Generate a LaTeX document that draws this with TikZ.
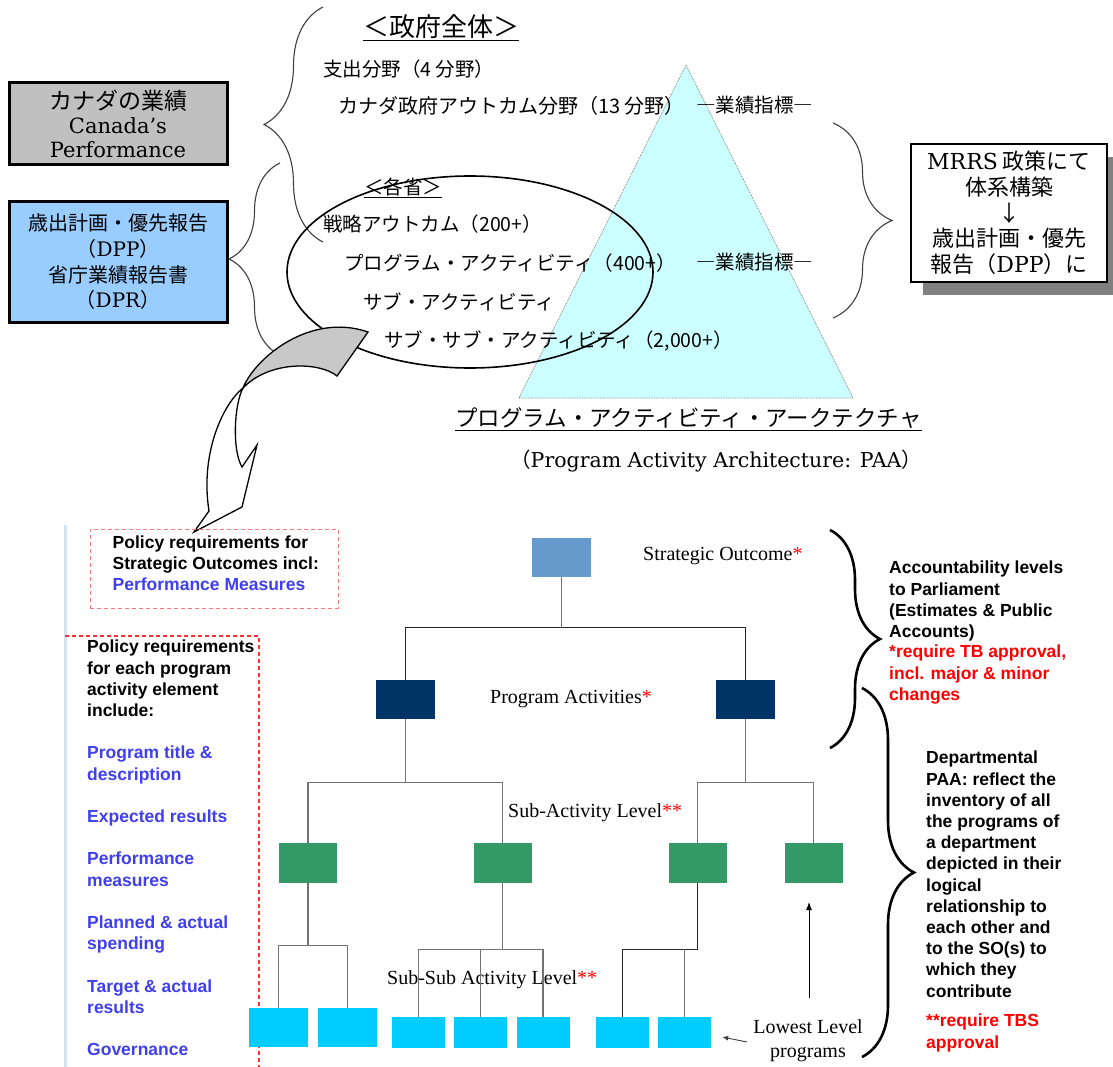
\documentclass[tikz,border=0pt]{standalone}
\usepackage{fontspec}
\setmainfont{Liberation Serif}
\setsansfont{Liberation Sans}
\newfontfamily\jfont{Noto Sans CJK JP}
\newfontfamily\cent{DejaVu Serif}
\usetikzlibrary{positioning,arrows.meta,calc,shadows,decorations.pathreplacing}
\definecolor{boxgrey}{HTML}{C0C0C0}
\definecolor{boxblue}{HTML}{99CCFF}
\definecolor{paa}{HTML}{CCFFFF}
\definecolor{shade}{HTML}{808080}
\definecolor{arrowgrey}{HTML}{C8C8C8}
\definecolor{soblue}{HTML}{6699CC}
\definecolor{panavy}{HTML}{003366}
\definecolor{subgreen}{HTML}{339966}
\definecolor{subcyan}{HTML}{00CCFF}
\definecolor{reqblue}{HTML}{3F3FF0}
\definecolor{reqred}{HTML}{FF0000}
\definecolor{dashred}{HTML}{FF3030}
\definecolor{rule}{HTML}{D6E3EF}
\tikzset{
  jt/.style={font=\jfont\fontsize{19.5}{23}\selectfont,anchor=west,inner sep=0pt},
  perfbox/.style={draw,line width=3pt,minimum width=218pt,minimum height=82pt,align=center,inner sep=0pt,font=\cent\fontsize{21}{24}\selectfont},
  topbrace/.style={decorate,decoration={brace,amplitude=#1pt},draw=black!75,line width=1.1pt},
  bigbrace/.style={decorate,decoration={brace,amplitude=#1pt},draw=black,line width=2.6pt},
  reqtxt/.style={font=\sffamily\bfseries\fontsize{17.5}{21.2}\selectfont,align=left,anchor=north west,inner sep=0pt},
  lvl/.style={minimum width=59pt,minimum height=39pt,inner sep=0pt},
  sublvl/.style={minimum width=58pt,minimum height=40pt,inner sep=0pt,fill=subgreen},
  leaf/.style={minimum width=53pt,minimum height=31pt,inner sep=0pt,fill=subcyan},
  lvltxt/.style={font=\fontsize{20}{24}\selectfont,anchor=west,inner sep=0pt},
  conn/.style={draw=black!55,line width=1.3pt},
  darkline/.style={draw=black!85,line width=1.3pt},
  ptr/.style={-{Latex[length=8pt,width=6pt]},draw=black,line width=0.9pt}}
\newcommand{\rstar}[1]{\textcolor{reqred}{#1}}

\begin{document}
\begin{tikzpicture}[x=1pt,y=-1pt]
  \useasboundingbox (0,0) rectangle (1113,1067);
  \fill[white] (0,0) rectangle (1113,1067);

  % upper half: PAA pyramid
  \filldraw[fill=paa,draw=gray,densely dotted,line width=0.8pt]
    (686,65) coordinate (apex) -- (853,398) coordinate (baser) -- (519,398) coordinate (basel) -- cycle;

  \node[perfbox,fill=boxgrey] (perf) at (118,124)
    {{\jfont\fontsize{23}{25}\selectfont カナダの業績}\\Canada’s\\Performance};
  \node[perfbox,fill=boxblue,minimum height=120pt,font=\cent\fontsize{20}{25.7}\selectfont] (plans) at (118,262)
    {{\jfont 歳出計画・優先報告}\\{\jfont （}DPP{\jfont ）}\\{\jfont 省庁業績報告書}\\{\jfont （}DPR{\jfont ）}};

  \node[jt,font=\jfont\fontsize{26}{30}\selectfont] (gov) at (363,28) {\underline{＜政府全体＞}};
  \node[jt] (spend) at (323,69) {支出分野（4 分野）};
  \node[jt,font=\jfont\fontsize{20}{23}\selectfont] (gcout) at (338,106) {カナダ政府アウトカム分野（13 分野）};
  \node[jt] (kpi1) at (696,105) {―業績指標―};
  \node[jt] (dept) at (364,188) {\underline{＜各省＞}};
  \node[jt] (souttxt) at (323,224) {戦略アウトカム（200+）};
  \node[jt] (patxt) at (344,263) {プログラム・アクティビティ（400+）};
  \node[jt] (kpi2) at (696,262) {―業績指標―};
  \node[jt] (subtxt) at (363,302) {サブ・アクティビティ};
  \node[jt] (ssubtxt) at (384,341) {サブ・サブ・アクティビティ（2,000+）};

  \node[jt,font=\jfont\fontsize{22.5}{26}\selectfont] (paatitle) at (455,419)
    {\underline{プログラム・アクティビティ・アークテクチャ}};
  \node[jt,font=\cent\fontsize{20.5}{24}\selectfont] (paaen) at (510,461)
    {{\jfont （}Program Activity Architecture: PAA{\jfont ）}};

  \node[draw,line width=1.2pt,fill=white,minimum width=196pt,minimum height=138pt,align=center,inner sep=0pt,
    drop shadow={shadow xshift=12pt,shadow yshift=-13pt,fill=shade,opacity=1},
    font=\jfont\fontsize{22}{25.75}\selectfont] (mrrs) at (1009,213)
    {{\cent MRRS} 政策にて\\体系構築\\↓\\歳出計画・優先\\報告（{\cent DPP}）に};

  \draw[topbrace=59] (323,242) -- (323,7);
  \draw[topbrace=51] (280,355) -- (280,163);
  \draw[topbrace=59] (833,123) -- (833,318);

  \draw[line width=1.6pt] (470,272) ellipse [x radius=183, y radius=96];

  % twisted arrow down to the PAA chart
  \filldraw[fill=white,line width=1.3pt] (243,388) .. controls (222,405) and (200,455) .. (209,511)
    -- (194,532) -- (242,507) -- (257,445) -- (242,467) .. controls (232,450) and (234,405) .. (243,388) -- cycle;
  \filldraw[fill=arrowgrey,line width=1.3pt] (243,388) .. controls (255,358) and (310,312) .. (368,332)
    -- (337,376) .. controls (320,362) and (270,360) .. (243,388) -- cycle;

  % lower half: policy requirements
  \draw[rule,line width=3pt] (65,525) -- (65,1067);
  \node[draw=dashred!65,dash pattern=on 4pt off 3pt,line width=1pt,minimum width=248pt,minimum height=79pt] (sobox) at (214,568.5) {};
  \node[reqtxt] (sotxt) at ([shift={(23,7)}]sobox.north west)
    {Policy requirements for\\Strategic Outcomes incl:\\\textcolor{reqblue}{Performance Measures}};
  \coordinate (pb1) at (65,636);
  \coordinate (pb2) at (259,1067);
  \draw[dashred,dash pattern=on 4pt off 3pt,line width=1.2pt] (pb1) -| (pb2);
  \node[reqtxt] (pareq) at (87,640)
    {Policy requirements\\for each program\\activity element\\include:};
  \node[reqtxt,text=reqblue] (paitems) at (87,746)
    {Program title \&\\description\\[21.2pt]Expected results\\[21.2pt]Performance\\measures\\[21.2pt]
     Planned \& actual\\spending\\[21.2pt]Target \& actual\\results\\[21.2pt]Governance};

  % PAA chart
  \node[lvl,fill=soblue] (so) at (561.5,557.5) {};
  \node[lvl,fill=panavy] (pa1) at (405.5,699.5) {};
  \node[lvl,fill=panavy] (pa2) at (745.5,699.5) {};
  \node[sublvl] (sa1) at (308,863) {};
  \node[sublvl] (sa2) at (502.5,863) {};
  \node[sublvl] (sa3) at (697.5,863) {};
  \node[sublvl] (sa4) at (813.5,863) {};
  \node[lvl,fill=subcyan] (ssa1) at (278.5,1027.5) {};
  \node[lvl,fill=subcyan] (ssa2) at (347.5,1027.5) {};
  \node[leaf] (ssa3) at (418.5,1032.5) {};
  \node[leaf] (ssa4) at (480.5,1032.5) {};
  \node[leaf] (ssa5) at (543,1032.5) {};
  \node[leaf] (ssa6) at (622.5,1032.5) {};
  \node[leaf] (ssa7) at (684.5,1032.5) {};

  \node[lvltxt] (solbl) at (643,556) {Strategic Outcome\rstar{*}};
  \node[lvltxt] (palbl) at (490,699) {Program Activities\rstar{*}};
  \node[lvltxt] (salbl) at (508,813) {Sub-Activity Level\rstar{**}};
  \node[lvltxt] (ssalbl) at (387,980) {Sub-Sub Activity Level\rstar{**}};
  \node[lvltxt,anchor=north,align=center] (lowest) at (808,1019) {Lowest Level\\programs};

  \draw[darkline] (pa1.north) -- ++(0,-52) coordinate (bus1) -| (pa2.north);
  \draw[conn] (so.south) -- (so.south |- bus1);
  \draw[conn] (pa1.south) -- ++(0,63) coordinate (bus2);
  \draw[conn] (sa1.north) |- (bus2) -| (sa2.north);
  \draw[conn] (pa2.south) -- ++(0,63) coordinate (bus3);
  \draw[conn] (sa3.north) |- (bus3) -| (sa4.north);
  \draw[conn] (sa1.south) -- ++(0,62) coordinate (bus4);
  \draw[conn] (ssa1.north) |- (bus4) -| (ssa2.north);
  \draw[conn] (sa2.south) -- ++(0,66) coordinate (bus5);
  \draw[conn] (ssa3.north) |- (bus5) -| (ssa5.north);
  \draw[conn] (ssa4.north) -- (ssa4.north |- bus5);
  \draw[darkline] (sa3.south) -- ++(0,66) coordinate (bus6);
  \draw[darkline] (ssa6.north) |- (bus6);
  \draw[conn] (ssa7.north) -- (ssa7.north |- bus6);

  \coordinate (up0) at (809,998);
  \coordinate (up1) at (809,902);
  \draw[ptr] (up0) -- (up1);
  \coordinate (lw0) at (747,1042);
  \draw[ptr,draw=black!75,-{Latex[length=6pt,width=5pt]}] (lw0) -- ([shift={(11,4.5)}]ssa7.east);

  % accountability braces
  \draw[bigbrace=50] (830,530) -- (830,748);
  \draw[bigbrace=52] (862,688) -- (862,1057);
  \node[reqtxt] (acct) at (889,561)
    {Accountability levels\\to Parliament\\(Estimates \& Public\\Accounts)};
  \node[reqtxt,text=reqred] (tbreq) at (889,645)
    {*require TB approval,\\incl. major \& minor\\changes};
  \node[reqtxt] (deptpaa) at (926,751)
    {Departmental\\PAA: reflect the\\inventory of all\\the programs of\\a department\\depicted in their\\logical\\relationship to\\each other and\\to the SO(s) to\\which they\\contribute};
  \node[reqtxt,text=reqred] (tbsreq) at (926,1014)
    {**require TBS\\approval};
\end{tikzpicture}
\end{document}
